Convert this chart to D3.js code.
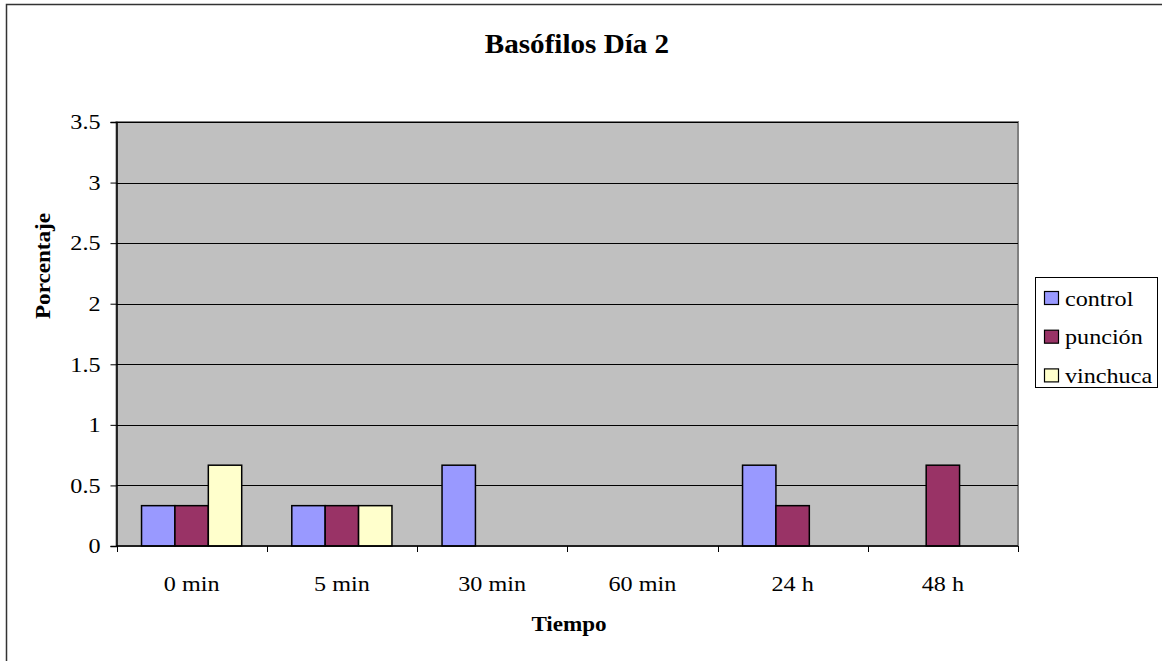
<!DOCTYPE html>
<html>
<head>
<meta charset="utf-8">
<script src="https://cdn.jsdelivr.net/npm/d3@7"></script>
<style>
  body { margin: 0; background: #fff; }
  svg { display: block; }
  svg text { font-family: "Liberation Serif", "Times New Roman", serif !important; fill: #000; }
</style>
</head>
<body>
<svg id="chart" width="1162" height="661"></svg>
<script>
// Basophil percentages per time point, day 2
const categories = ["0 min", "5 min", "30 min", "60 min", "24 h", "48 h"];
const seriesNames = ["control", "punción", "vinchuca"];
const control  = [0.333, 0.333, 0.667, 0, 0.667, 0];
const puncion  = [0.333, 0.333, 0,     0, 0.333, 0.667];
const vinchuca = [0.667, 0.333, 0,     0, 0,     0];
const yTicks = [0, 0.5, 1, 1.5, 2, 2.5, 3, 3.5];
const colors = ["#9999FF", "#993366", "#FFFFCC"];

const seriesValues = [control, puncion, vinchuca];

// label typography: slightly widened serif glyphs
const labelSize = 21;
const wide = 1.15;
const wideBold = 1.1;

const svg = d3.select("#chart");

// outer chart frame (extends past the right/bottom edge)
svg.append("rect")
  .attr("x", 6.5).attr("y", 4.5)
  .attr("width", 1170).attr("height", 670)
  .attr("fill", "#fff").attr("stroke", "#333").attr("stroke-width", 1.5);

const plot = { left: 116.5, right: 1018, top: 122, bottom: 546 };

const x = d3.scaleBand()
  .domain(categories)
  .range([plot.left, plot.right])
  .paddingInner(0).paddingOuter(0);

const xInner = d3.scaleBand()
  .domain(seriesNames)
  .range([0, x.bandwidth()])
  .paddingOuter(0.75)
  .paddingInner(0);

const y = d3.scaleLinear()
  .domain([0, 3.5])
  .range([plot.bottom, plot.top]);

// plot background
svg.append("rect")
  .attr("x", plot.left).attr("y", plot.top)
  .attr("width", plot.right - plot.left).attr("height", plot.bottom - plot.top)
  .attr("fill", "#C0C0C0")
  .attr("stroke", "#808080").attr("stroke-width", 2);

// horizontal gridlines
svg.append("g")
  .selectAll("line")
  .data(yTicks.filter(d => d > 0))
  .join("line")
  .attr("x1", plot.left).attr("x2", plot.right)
  .attr("y1", d => Math.round(y(d)) + 0.5).attr("y2", d => Math.round(y(d)) + 0.5)
  .attr("stroke", "#000").attr("stroke-width", 1);

// bars
const groups = svg.append("g")
  .selectAll("g")
  .data(categories)
  .join("g")
  .attr("transform", d => `translate(${x(d)},0)`);

groups.selectAll("rect")
  .data((c, i) => seriesNames.map((s, j) => ({ s, j, v: seriesValues[j][i] })).filter(d => d.v > 0))
  .join("rect")
  .attr("x", d => xInner(d.s))
  .attr("width", xInner.bandwidth())
  .attr("y", d => y(d.v))
  .attr("height", d => y(0) - y(d.v))
  .attr("fill", d => colors[d.j])
  .attr("stroke", "#000").attr("stroke-width", 1.5);

// y axis
const yAxis = d3.axisLeft(y)
  .tickValues(yTicks)
  .tickSize(6)
  .tickPadding(10)
  .tickFormat(d3.format("~g"));

const yg = svg.append("g")
  .attr("transform", `translate(${plot.left},0)`)
  .call(yAxis);
yg.select(".domain").attr("stroke", "#000").attr("stroke-width", 1.5);
yg.selectAll(".tick line").attr("stroke", "#000");
yg.selectAll(".tick text")
  .attr("font-size", labelSize)
  .attr("x", -16 / wide)
  .attr("transform", `scale(${wide},1)`);

// x axis: ticks sit on category boundaries
const xg = svg.append("g").attr("transform", `translate(0,${plot.bottom})`);
xg.append("line")
  .attr("x1", plot.left).attr("x2", plot.right)
  .attr("y1", 0).attr("y2", 0)
  .attr("stroke", "#000").attr("stroke-width", 1.5);
xg.selectAll("line.tk")
  .data(categories.map(c => x(c)).concat([plot.right]))
  .join("line").attr("class", "tk")
  .attr("x1", d => Math.round(d) + 0.5).attr("x2", d => Math.round(d) + 0.5)
  .attr("y1", 0).attr("y2", 6)
  .attr("stroke", "#000");
xg.selectAll("text")
  .data(categories)
  .join("text")
  .attr("transform", d => `translate(${x(d) + x.bandwidth() / 2},45) scale(${wide},1)`)
  .attr("text-anchor", "middle")
  .attr("font-size", labelSize)
  .text(d => d);

// title
svg.append("text")
  .attr("transform", "translate(577,53) scale(1.04,1)")
  .attr("text-anchor", "middle")
  .attr("font-weight", "bold").attr("font-size", 28)
  .text("Basófilos Día 2");

// axis titles
svg.append("text")
  .attr("transform", `translate(569,631) scale(${wideBold},1)`)
  .attr("text-anchor", "middle")
  .attr("font-weight", "bold").attr("font-size", labelSize)
  .text("Tiempo");

svg.append("text")
  .attr("transform", `translate(50,266) rotate(-90) scale(${wideBold},1)`)
  .attr("text-anchor", "middle")
  .attr("font-weight", "bold").attr("font-size", labelSize)
  .text("Porcentaje");

// legend
const legend = svg.append("g");
legend.append("rect")
  .attr("x", 1035.5).attr("y", 277.5)
  .attr("width", 122).attr("height", 110)
  .attr("fill", "#fff").attr("stroke", "#000").attr("stroke-width", 1);

const items = legend.selectAll("g.item")
  .data(seriesNames)
  .join("g").attr("class", "item")
  .attr("transform", (d, i) => `translate(1044,${298 + i * 38.7})`);
items.append("rect")
  .attr("x", 0.5).attr("y", -6.5)
  .attr("width", 14).attr("height", 13)
  .attr("fill", (d, i) => colors[i])
  .attr("stroke", "#000").attr("stroke-width", 1.2);
items.append("text")
  .attr("transform", `translate(21,7.5) scale(${wide},1)`)
  .attr("font-size", labelSize)
  .text(d => d);
</script>
</body>
</html>
